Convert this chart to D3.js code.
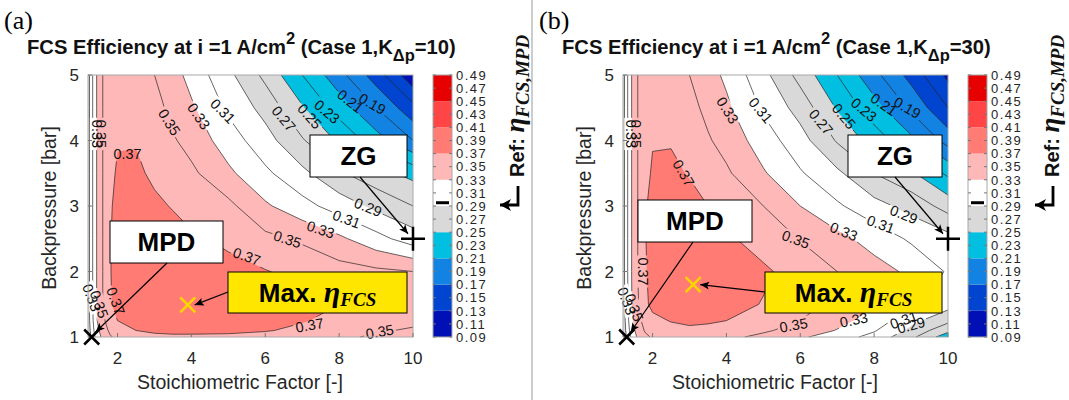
<!DOCTYPE html>
<html>
<head>
<meta charset="utf-8">
<script src="https://cdn.jsdelivr.net/npm/d3@7"></script>
<style>
body { margin: 0; background: #fff; }
text { font-family: "Liberation Sans", Arial, sans-serif; }
</style>
</head>
<body>
<svg id="chart" width="1069" height="400"></svg>
<script>
// grid: stoichiometric factor (columns) x backpressure (rows)
const lambdas = [1.2, 1.3, 1.45, 1.6, 1.8, 2, 2.5, 3, 3.5, 4, 5, 6, 7, 8, 9, 10];
const pressures = [1, 1.1, 1.25, 1.5, 2, 2.5, 3, 3.5, 4, 4.5, 5];

// FCS efficiency, case 1, K_dp = 10 (one row per pressure)
const etaA = [
  [0.270,0.295,0.320,0.335,0.348,0.355,0.362,0.366,0.367,0.367,0.367,0.365,0.360,0.354,0.347,0.343],
  [0.275,0.300,0.325,0.340,0.354,0.362,0.370,0.373,0.374,0.374,0.373,0.371,0.367,0.360,0.352,0.348],
  [0.280,0.303,0.330,0.345,0.362,0.370,0.376,0.378,0.379,0.379,0.377,0.374,0.371,0.366,0.360,0.354],
  [0.280,0.305,0.333,0.350,0.368,0.377,0.381,0.383,0.384,0.384,0.382,0.378,0.374,0.370,0.364,0.360],
  [0.280,0.305,0.333,0.350,0.369,0.378,0.382,0.382,0.381,0.380,0.376,0.371,0.364,0.358,0.354,0.350],
  [0.280,0.305,0.333,0.350,0.369,0.377,0.380,0.379,0.376,0.373,0.366,0.355,0.347,0.334,0.317,0.300],
  [0.280,0.305,0.333,0.350,0.368,0.375,0.377,0.373,0.369,0.362,0.355,0.333,0.317,0.301,0.285,0.270],
  [0.280,0.305,0.333,0.350,0.366,0.372,0.373,0.367,0.360,0.354,0.334,0.314,0.295,0.273,0.257,0.244],
  [0.280,0.305,0.333,0.350,0.362,0.369,0.369,0.360,0.352,0.343,0.320,0.298,0.272,0.247,0.219,0.190],
  [0.280,0.305,0.333,0.350,0.360,0.363,0.362,0.357,0.344,0.333,0.306,0.283,0.252,0.221,0.190,0.156],
  [0.280,0.305,0.333,0.350,0.356,0.358,0.357,0.350,0.338,0.323,0.295,0.265,0.230,0.197,0.160,0.115]
];

// FCS efficiency, case 1, K_dp = 30
const etaB = [
  [0.268,0.292,0.318,0.333,0.346,0.352,0.358,0.360,0.358,0.355,0.345,0.333,0.320,0.303,0.275,0.238],
  [0.272,0.297,0.323,0.338,0.352,0.358,0.364,0.367,0.366,0.363,0.353,0.342,0.329,0.312,0.285,0.255],
  [0.275,0.300,0.328,0.343,0.358,0.365,0.371,0.373,0.372,0.370,0.360,0.350,0.336,0.322,0.296,0.275],
  [0.278,0.303,0.332,0.348,0.366,0.375,0.382,0.384,0.381,0.377,0.369,0.357,0.345,0.333,0.316,0.298],
  [0.280,0.305,0.333,0.350,0.368,0.377,0.384,0.386,0.383,0.380,0.373,0.362,0.350,0.338,0.326,0.308],
  [0.280,0.305,0.333,0.350,0.369,0.378,0.382,0.381,0.377,0.373,0.362,0.349,0.336,0.322,0.307,0.297],
  [0.280,0.305,0.333,0.350,0.368,0.376,0.378,0.375,0.370,0.363,0.350,0.330,0.313,0.297,0.283,0.262],
  [0.280,0.305,0.333,0.350,0.365,0.372,0.373,0.369,0.360,0.353,0.332,0.312,0.294,0.270,0.253,0.226],
  [0.280,0.305,0.333,0.350,0.362,0.369,0.369,0.360,0.352,0.343,0.320,0.298,0.268,0.241,0.215,0.182],
  [0.280,0.305,0.333,0.350,0.360,0.363,0.362,0.356,0.345,0.334,0.307,0.282,0.248,0.218,0.186,0.150],
  [0.280,0.305,0.333,0.350,0.355,0.357,0.356,0.350,0.338,0.326,0.296,0.263,0.230,0.196,0.163,0.125]
];

// filled bands (lower bound of each band) and their colours
const fillLevels = [0.09, 0.13, 0.17, 0.21, 0.25, 0.29, 0.33, 0.37, 0.41, 0.45];
const bandColors = ["#0010b4", "#0044d0", "#1283e3", "#00bfe0", "#d9d9d9", "#ffffff", "#ffb8b8", "#ff7b74", "#ff4545", "#e60000"];
// contour lines
const lineLevels = [0.11, 0.13, 0.15, 0.17, 0.19, 0.21, 0.23, 0.25, 0.27, 0.29, 0.31, 0.33, 0.35, 0.37, 0.39, 0.41, 0.43, 0.45, 0.47];
// colorbar tick labels
const cbTicks = ["0.09","0.11","0.13","0.15","0.17","0.19","0.21","0.23","0.25","0.27","0.29","0.31","0.33","0.35","0.37","0.39","0.41","0.43","0.45","0.47","0.49"];
const xTicks = [2, 4, 6, 8, 10];
const yTicks = [1, 2, 3, 4, 5];

// operating points
const mpdPoint = [1.3, 1.0];
const zgPoint = [10, 2.5];
const maxPointA = [3.9, 1.49];
const maxPointB = [3.1, 1.8];
const refEta = 0.295;

// contour labels: text, stoich, pressure, angle
const labelsA = [
  ["0.35", 3.4, 4.28, 58], ["0.33", 4.2, 4.37, 55], ["0.31", 4.85, 4.45, 45],
  ["0.27", 6.5, 4.33, 50], ["0.25", 7.2, 4.37, 48], ["0.23", 7.67, 4.44, 40],
  ["0.21", 8.3, 4.6, 38], ["0.19", 8.9, 4.56, 30], ["0.37", 2.27, 3.79, 0],
  ["0.33", 1.44, 4.1, 90], ["0.35", 1.55, 4.1, 90],
  ["0.29", 8.78, 2.98, 22], ["0.31", 8.2, 2.8, 20], ["0.33", 7.5, 2.64, 18],
  ["0.35", 6.6, 2.49, 18], ["0.37", 5.5, 2.23, 20],
  ["0.37", 7.2, 1.18, -10], ["0.35", 9.1, 1.08, -10],
  ["0.33", 1.3, 1.6, 70], ["0.35", 1.5, 1.5, 70], ["0.37", 1.95, 1.55, 70]
];
const labelsB = [
  ["0.33", 4.03, 4.46, 58], ["0.31", 4.93, 4.46, 50], ["0.27", 6.56, 4.28, 50],
  ["0.25", 7.18, 4.37, 50], ["0.23", 7.72, 4.47, 40], ["0.21", 8.26, 4.55, 35],
  ["0.19", 8.9, 4.5, 30], ["0.37", 2.84, 3.5, 60],
  ["0.33", 1.42, 4.1, 90], ["0.35", 1.55, 4.1, 90],
  ["0.35", 5.88, 2.49, 20], ["0.33", 7.18, 2.61, 22], ["0.31", 8.18, 2.72, 20], ["0.29", 8.8, 2.87, 22],
  ["0.37", 1.75, 2.0, 90],
  ["0.35", 5.82, 1.18, -10], ["0.33", 7.45, 1.26, -12], ["0.31", 8.8, 1.26, -20], ["0.29", 9.0, 1.18, -15],
  ["0.33", 1.3, 1.55, 70], ["0.35", 1.5, 1.45, 70]
];

const W = 1069, H = 400;
const L = 88, R = 413, T = 75, B = 337;
const svg = d3.select("#chart");
const defs = svg.append("defs");
svg.append("rect").attr("width", W).attr("height", H).attr("fill", "#fff");

defs.append("marker").attr("id", "arrow").attr("viewBox", "-10 -5 12 10")
  .attr("refX", 0).attr("refY", 0).attr("markerWidth", 12).attr("markerHeight", 10)
  .attr("markerUnits", "userSpaceOnUse").attr("orient", "auto")
  .append("path").attr("d", "M0,0L-9,-4L-7,0L-9,4Z").attr("fill", "#000");
defs.append("marker").attr("id", "bigarrow").attr("viewBox", "-12 -7 14 14")
  .attr("refX", 0).attr("refY", 0).attr("markerWidth", 14).attr("markerHeight", 14)
  .attr("markerUnits", "userSpaceOnUse").attr("orient", "auto")
  .append("path").attr("d", "M0,0L-11,-6L-8,0L-11,6Z").attr("fill", "#000");

function drawPanel(o) {
  const g = svg.append("g").attr("transform", `translate(${o.ox},0)`);
  const x = d3.scaleLinear().domain([lambdas[0], lambdas[lambdas.length - 1]]).range([L, R]);
  const y = d3.scaleLinear().domain([1, 5]).range([B, T]);
  const nx = lambdas.length, ny = pressures.length;
  const ix = d3.scaleLinear().domain(d3.range(nx)).range(lambdas);
  const iy = d3.scaleLinear().domain(d3.range(ny)).range(pressures);
  const values = o.eta.flat();
  const uv = p => [Math.max(0, Math.min(nx - 1, p[0] - 0.5)), Math.max(0, Math.min(ny - 1, p[1] - 0.5))];
  const px = q => [x(ix(q[0])).toFixed(2), y(iy(q[1])).toFixed(2)];
  const gen = d3.contours().size([nx, ny]);

  // panel letter
  g.append("text").attr("x", 4).attr("y", 29)
    .style("font-family", "'Liberation Serif', 'Times New Roman', serif").style("font-size", "26px")
    .text(o.tag);

  // title
  const title = g.append("text").attr("x", 27).attr("y", 54)
    .style("font-weight", "bold").style("font-size", "20.2px").attr("fill", "#111");
  title.append("tspan").text("FCS Efficiency at i =1 A/cm");
  title.append("tspan").attr("dy", -10).style("font-size", "16.5px").text("2");
  title.append("tspan").attr("dy", 10).text(" (Case 1,K");
  title.append("tspan").attr("dy", 7).style("font-size", "16.5px").text("Δp");
  title.append("tspan").attr("dy", -7).text(`=${o.k})`);

  // filled contours
  const fills = g.append("g");
  fillLevels.forEach((t, k) => {
    const c = gen.contour(values, t);
    const d = c.coordinates.map(poly => poly.map(ring =>
      "M" + ring.map(p => px(uv(p)).join(",")).join("L") + "Z").join("")).join("");
    if (d) fills.append("path").attr("d", d).attr("fill", bandColors[k]).attr("fill-rule", "evenodd");
  });

  // label gaps in contour lines
  const mask = defs.append("mask").attr("id", "mask" + o.id)
    .attr("maskUnits", "userSpaceOnUse").attr("x", 0).attr("y", 0).attr("width", 540).attr("height", H);
  mask.append("rect").attr("width", 540).attr("height", H).attr("fill", "#fff");

  const lines = g.append("g").attr("mask", `url(#mask${o.id})`)
    .attr("fill", "none").attr("stroke", "#262626").attr("stroke-width", 0.7);
  lineLevels.forEach(t => {
    const c = gen.contour(values, t);
    let d = "";
    c.coordinates.forEach(poly => poly.forEach(ring => {
      const q = ring.map(uv);
      for (let i = 0; i < q.length - 1; i++) {
        const a = q[i], b = q[i + 1];
        const edge = (a[0] <= 0 && b[0] <= 0) || (a[0] >= nx - 1 && b[0] >= nx - 1) ||
                     (a[1] <= 0 && b[1] <= 0) || (a[1] >= ny - 1 && b[1] >= ny - 1);
        if (edge) continue;
        d += "M" + px(a).join(",") + "L" + px(b).join(",");
      }
    }));
    if (d) lines.append("path").attr("d", d);
  });

  // contour labels
  const lab = g.append("g");
  o.labels.forEach(([s, lx, ly, a]) => {
    const cx = x(lx), cy = y(ly);
    const t = lab.append("text").attr("transform", `translate(${cx},${cy}) rotate(${a})`)
      .attr("text-anchor", "middle").attr("dy", "0.35em")
      .style("font-size", "14.5px").attr("fill", "#111").text(s);
    const w = t.node().getComputedTextLength() + 4;
    mask.append("rect").attr("x", -w / 2).attr("y", -7).attr("width", w).attr("height", 14)
      .attr("transform", `translate(${cx},${cy}) rotate(${a})`).attr("fill", "#000");
  });

  // axes frame and ticks
  g.append("rect").attr("x", L).attr("y", T).attr("width", R - L).attr("height", B - T)
    .attr("fill", "none").attr("stroke", "#a8a8a8").attr("stroke-width", 1);
  xTicks.forEach(v => {
    g.append("line").attr("x1", x(v)).attr("x2", x(v)).attr("y1", B).attr("y2", B - 4).attr("stroke", "#777");
    g.append("text").attr("x", x(v)).attr("y", 364).attr("text-anchor", "middle")
      .style("font-size", "17px").attr("fill", "#262626").text(v);
  });
  yTicks.forEach(v => {
    g.append("line").attr("x1", L).attr("x2", L + 4).attr("y1", y(v)).attr("y2", y(v)).attr("stroke", "#777");
    g.append("text").attr("x", 79).attr("y", y(v) + 6).attr("text-anchor", "end")
      .style("font-size", "17px").attr("fill", "#262626").text(v);
  });
  g.append("text").attr("x", 240).attr("y", 389).attr("text-anchor", "middle")
    .style("font-size", "19.5px").attr("fill", "#262626").text("Stoichiometric Factor [-]");
  g.append("text").attr("transform", "translate(56,208) rotate(-90)").attr("text-anchor", "middle")
    .style("font-size", "19.5px").attr("fill", "#262626").text("Backpressure [bar]");

  // colorbar
  const cb = d3.scaleLinear().domain([0.09, 0.49]).range([B, T]);
  fillLevels.forEach((t, k) => {
    g.append("rect").attr("x", 433).attr("y", cb(t + 0.04)).attr("width", 19)
      .attr("height", cb(t) - cb(t + 0.04)).attr("fill", bandColors[k]);
  });
  g.append("rect").attr("x", 433).attr("y", T).attr("width", 19).attr("height", B - T)
    .attr("fill", "none").attr("stroke", "#a8a8a8");
  cbTicks.forEach(s => {
    const v = +s;
    g.append("line").attr("x1", 449).attr("x2", 452).attr("y1", cb(v)).attr("y2", cb(v)).attr("stroke", "#777");
    g.append("line").attr("x1", 433).attr("x2", 436).attr("y1", cb(v)).attr("y2", cb(v)).attr("stroke", "#777");
    g.append("text").attr("x", 456).attr("y", cb(v) + 4.7).style("font-size", "13px")
      .style("letter-spacing", "1.5px").attr("fill", "#262626").text(s);
  });
  g.append("line").attr("x1", 436).attr("x2", 449).attr("y1", cb(refEta)).attr("y2", cb(refEta))
    .attr("stroke", "#000").attr("stroke-width", 3);

  // reference label with bent arrow
  const ref = g.append("text").attr("transform", "translate(524,177) rotate(-90)")
    .style("font-weight", "bold").style("font-size", "20px").attr("fill", "#111");
  ref.append("tspan").text("Ref: ");
  ref.append("tspan").style("font-family", "'Liberation Serif', serif").style("font-style", "italic")
    .style("font-size", "27px").text("η");
  ref.append("tspan").attr("dy", 5).style("font-family", "'Liberation Serif', serif")
    .style("font-style", "italic").style("font-size", "19px").text("FCS,MPD");
  g.append("path").attr("d", "M518,186L518,205L500,205").attr("fill", "none")
    .attr("stroke", "#000").attr("stroke-width", 2.8).attr("marker-end", "url(#bigarrow)");

  // annotation boxes
  const box = (r, fill, parts) => {
    g.append("rect").attr("x", r[0]).attr("y", r[1]).attr("width", r[2]).attr("height", r[3])
      .attr("fill", fill).attr("stroke", "#000").attr("stroke-width", 1);
    const t = g.append("text").attr("x", r[0] + r[2] / 2).attr("y", r[1] + r[3] / 2 + 9)
      .attr("text-anchor", "middle").style("font-weight", "bold").style("font-size", "26px").attr("fill", "#000");
    parts(t);
  };
  const arrow = (x1, y1, x2, y2) => g.append("line").attr("x1", x1).attr("y1", y1).attr("x2", x2).attr("y2", y2)
    .attr("stroke", "#000").attr("stroke-width", 1.2).attr("marker-end", "url(#arrow)");

  // markers
  const mx = x(mpdPoint[0]), my = y(mpdPoint[1]);
  const zx = x(zgPoint[0]), zy = y(zgPoint[1]);
  const yx = x(o.maxPt[0]), yy = y(o.maxPt[1]);

  box(o.zgBox, "#fff", t => t.text("ZG"));
  arrow(o.zgFrom[0], o.zgFrom[1], zx - 5, zy - 5);
  box(o.mpdBox, "#fff", t => t.text("MPD"));
  arrow(o.mpdFrom[0], o.mpdFrom[1], mx + 4, my - 5);
  box(o.maxBox, "#ffe600", t => {
    t.append("tspan").text("Max. ");
    t.append("tspan").style("font-family", "'Liberation Serif', serif").style("font-style", "italic")
      .style("font-size", "30px").text("η");
    t.append("tspan").attr("dy", 4).style("font-family", "'Liberation Serif', serif")
      .style("font-style", "italic").style("font-size", "19px").text("FCS");
  });
  arrow(o.maxBox[0], o.maxBox[1] + 20, yx + 7, yy);

  const cross = (cx, cy, s, col) => g.append("path")
    .attr("d", `M${cx - s},${cy - s}L${cx + s},${cy + s}M${cx - s},${cy + s}L${cx + s},${cy - s}`)
    .attr("stroke", col).attr("stroke-width", 2.5);
  cross(mx, my, 7.5, "#000");
  cross(yx, yy, 7.5, "#ffd500");
  g.append("path").attr("d", `M${zx - 12},${zy}L${zx + 12},${zy}M${zx},${zy - 12}L${zx},${zy + 12}`)
    .attr("stroke", "#000").attr("stroke-width", 2.5);
}

drawPanel({ ox: 0, id: "A", tag: "(a)", k: 10, eta: etaA, labels: labelsA, maxPt: maxPointA,
  zgBox: [310, 135, 97, 42], zgFrom: [360, 177],
  mpdBox: [110, 221, 113, 42], mpdFrom: [167, 263],
  maxBox: [228, 272, 179, 41] });
drawPanel({ ox: 535, id: "B", tag: "(b)", k: 30, eta: etaB, labels: labelsB, maxPt: maxPointB,
  zgBox: [313, 135, 94, 42], zgFrom: [360, 177],
  mpdBox: [103, 200, 114, 42], mpdFrom: [158, 242],
  maxBox: [230, 272, 177, 41] });

svg.append("line").attr("x1", 532).attr("x2", 532).attr("y1", 0).attr("y2", H)
  .attr("stroke", "#999").attr("stroke-width", 1);
</script>
</body>
</html>
